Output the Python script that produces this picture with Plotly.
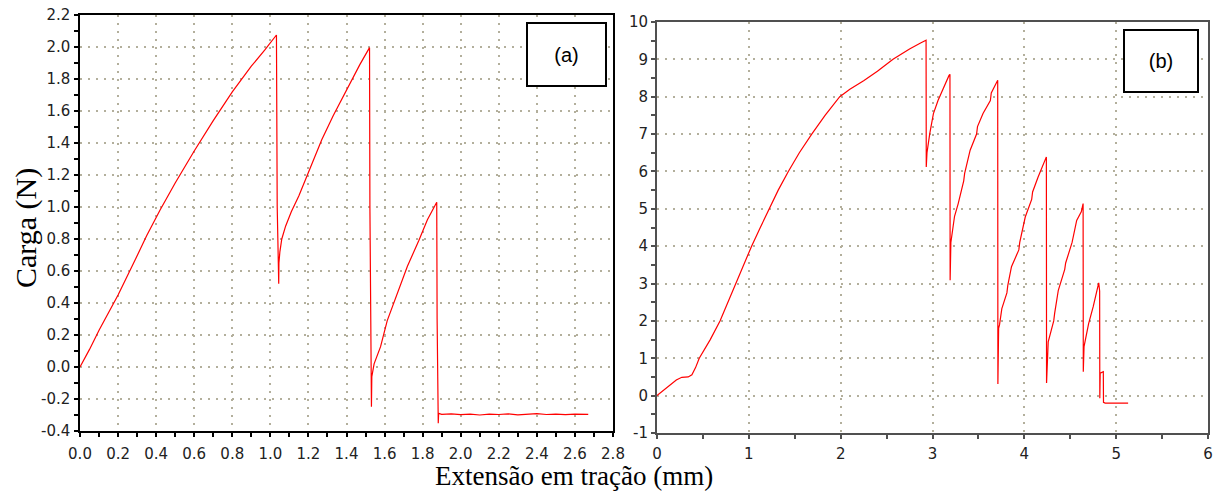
import plotly.graph_objects as go

W, H = 1213, 492

# ---- data (a) ----
xa = [0, 0.05, 0.1, 0.2, 0.29, 0.35, 0.42, 0.5, 0.6, 0.7, 0.8, 0.9, 0.97, 1.032,
      1.036, 1.044, 1.045, 1.05, 1.06, 1.08, 1.11, 1.15, 1.19, 1.23, 1.27, 1.33, 1.40, 1.47, 1.521,
      1.523, 1.531, 1.533, 1.545, 1.56, 1.579, 1.614, 1.667, 1.72, 1.78, 1.825, 1.874,
      1.876, 1.882, 1.884, 1.90, 1.95, 2.00, 2.05, 2.10, 2.15, 2.20, 2.25, 2.30, 2.35,
      2.40, 2.45, 2.50, 2.55, 2.60, 2.67]
ya = [0, 0.11, 0.23, 0.45, 0.67, 0.82, 0.98, 1.15, 1.35, 1.54, 1.72, 1.88, 1.98, 2.075,
      1.0, 0.52, 0.65, 0.72, 0.80, 0.88, 0.97, 1.07, 1.19, 1.31, 1.42, 1.57, 1.73, 1.89, 1.996,
      1.0, -0.248, -0.06, 0.02, 0.07, 0.127, 0.29, 0.46, 0.63, 0.79, 0.92, 1.03,
      0.3, -0.352, -0.29, -0.296, -0.293, -0.298, -0.295, -0.30, -0.294, -0.297, -0.293,
      -0.299, -0.295, -0.292, -0.297, -0.294, -0.298, -0.295, -0.296]

# ---- data (b) ----
xb = [0, 0.07, 0.145, 0.21, 0.27, 0.3, 0.34, 0.38, 0.42, 0.46, 0.52, 0.58, 0.686, 0.77,
      0.86, 0.945, 1.03, 1.125, 1.224, 1.32, 1.43, 1.55, 1.685, 1.83, 1.99, 2.1, 2.25,
      2.4, 2.57, 2.75, 2.87, 2.93,
      2.932, 2.94, 2.97, 3.01, 3.06, 3.12, 3.18, 3.19,
      3.192, 3.20, 3.23, 3.24, 3.28, 3.34, 3.35, 3.41, 3.48, 3.49, 3.55, 3.63, 3.64, 3.71,
      3.712, 3.72, 3.73, 3.755, 3.81, 3.82, 3.86, 3.94, 3.95, 4.01, 4.08, 4.09, 4.15, 4.24,
      4.242, 4.26, 4.32, 4.33, 4.37, 4.44, 4.45, 4.52, 4.57, 4.62, 4.64,
      4.642, 4.65, 4.70, 4.75, 4.81, 4.82, 4.822, 4.826, 4.86, 4.862, 4.88, 5.13]
yb = [0, 0.14, 0.31, 0.42, 0.49, 0.5, 0.5, 0.56, 0.75, 1.0, 1.25, 1.5, 2.0, 2.5,
      3.0, 3.5, 4.0, 4.5, 5.0, 5.5, 6.0, 6.5, 7.0, 7.5, 8.0, 8.2, 8.43,
      8.68, 9.0, 9.28, 9.44, 9.51,
      6.12, 6.5, 7.01, 7.55, 7.9, 8.26, 8.57, 8.6,
      3.09, 4.1, 4.6, 4.8, 5.14, 5.75, 5.95, 6.57, 7.0, 7.2, 7.55, 7.9, 8.1, 8.44,
      0.31, 1.8, 1.9, 2.33, 2.75, 2.95, 3.45, 3.9, 4.1, 4.78, 5.25, 5.45, 5.85, 6.39,
      0.34, 1.44, 2.0, 2.2, 2.82, 3.38, 3.55, 4.1, 4.69, 4.92, 5.14,
      0.64, 1.31, 1.93, 2.38, 3.02, 2.8, -0.07, 0.6, 0.64, -0.18, -0.2, -0.2]

xa_ticks = [0.0, 0.2, 0.4, 0.6, 0.8, 1.0, 1.2, 1.4, 1.6, 1.8, 2.0, 2.2, 2.4, 2.6, 2.8]
ya_ticks = [-0.4, -0.2, 0.0, 0.2, 0.4, 0.6, 0.8, 1.0, 1.2, 1.4, 1.6, 1.8, 2.0, 2.2]
xb_ticks = [0, 1, 2, 3, 4, 5, 6]
yb_ticks = [-1, 0, 1, 2, 3, 4, 5, 6, 7, 8, 9, 10]

RED = "#ff0000"
GRID = "#b3af9c"
TICKFONT = dict(family="DejaVu Sans", size=15, color="#222222")


def px_x(p):
    return p / W


def px_y(p):
    return (H - p) / H


fig = go.Figure()
fig.add_trace(go.Scatter(x=xa, y=ya, mode="lines", line=dict(color=RED, width=1.2),
                         xaxis="x", yaxis="y", showlegend=False))
fig.add_trace(go.Scatter(x=xb, y=yb, mode="lines", line=dict(color=RED, width=1.2),
                         xaxis="x2", yaxis="y2", showlegend=False))

common = dict(showgrid=True, gridcolor=GRID, gridwidth=1.5, griddash="2px,6px",
              zeroline=False, ticks="outside", ticklen=4, tickwidth=1.5,
              tickfont=TICKFONT, mirror=True, showline=True, automargin=False)

fig.update_layout(
    width=W, height=H,
    margin=dict(l=0, r=0, t=0, b=0, autoexpand=False),
    paper_bgcolor="white", plot_bgcolor="white",
    xaxis=dict(domain=[px_x(80), px_x(613)], range=[0, 2.8], anchor="y",
               tickvals=xa_ticks, ticktext=[f"{v:.1f}" for v in xa_ticks],
               linecolor="black", linewidth=1.5, tickcolor="black",
               minor=dict(dtick=0.1, ticks="outside", ticklen=4, tickcolor="black", showgrid=False),
               ticklabelstandoff=4, **common),
    yaxis=dict(domain=[px_y(431), px_y(15)], range=[-0.4, 2.2], anchor="x",
               tickvals=ya_ticks, ticktext=[f"{v:.1f}" for v in ya_ticks],
               linecolor="black", linewidth=1.5, tickcolor="black",
               minor=dict(dtick=0.1, ticks="outside", ticklen=4, tickcolor="black", showgrid=False),
               ticklabelstandoff=1, **common),
    xaxis2=dict(domain=[px_x(657), px_x(1208)], range=[0, 6], anchor="y2",
                tickvals=xb_ticks, ticktext=[str(v) for v in xb_ticks],
                linecolor="#505050", linewidth=2, tickcolor="#505050",
                minor=dict(dtick=0.5, ticks="outside", ticklen=4, tickcolor="#505050", showgrid=False),
                ticklabelstandoff=2, **common),
    yaxis2=dict(domain=[px_y(433), px_y(22)], range=[-1, 10], anchor="x2",
                tickvals=yb_ticks, ticktext=[str(v) for v in yb_ticks],
                linecolor="#505050", linewidth=2, tickcolor="#505050",
                minor=dict(dtick=0.5, ticks="outside", ticklen=4, tickcolor="#505050", showgrid=False),
                ticklabelstandoff=0, **common),
)

annos = [
    dict(text="Carga (N)", x=px_x(26), y=px_y(228), xref="paper", yref="paper",
         textangle=-90, showarrow=False, xanchor="center", yanchor="middle",
         font=dict(family="Liberation Serif", size=30, color="black")),
    dict(text="Extensão em tração (mm)", x=px_x(574), y=0, xref="paper", yref="paper",
         showarrow=False, xanchor="center", yanchor="bottom", borderpad=0,
         font=dict(family="Liberation Serif", size=27, color="black")),
    dict(text="(a)", x=px_x(566.5), y=px_y(54.5), xref="paper", yref="paper",
         showarrow=False, xanchor="center", yanchor="middle", width=77, height=61,
         borderpad=0, bordercolor="black", borderwidth=2, bgcolor="white",
         font=dict(family="Liberation Sans", size=20, color="black")),
    dict(text="(b)", x=px_x(1161), y=px_y(61), xref="paper", yref="paper",
         showarrow=False, xanchor="center", yanchor="middle", width=72, height=60,
         borderpad=0, bordercolor="black", borderwidth=2, bgcolor="white",
         font=dict(family="Liberation Sans", size=20, color="black")),
]
fig.update_layout(annotations=annos)

fig.write_html("out.html")
